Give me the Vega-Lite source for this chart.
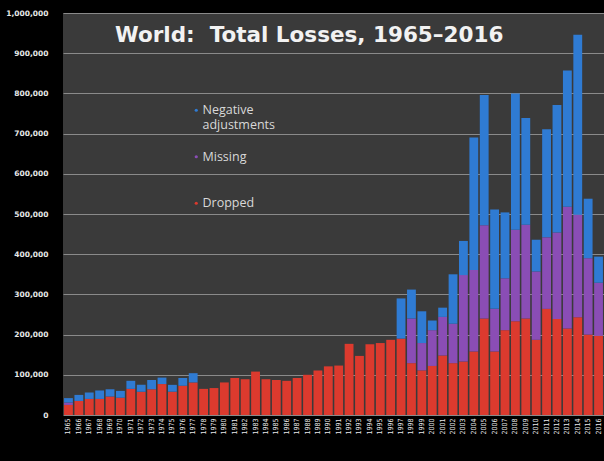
{
  "$schema": "https://vega.github.io/schema/vega-lite/v6.json",
  "width": 541,
  "height": 402,
  "autosize": "none",
  "padding": {"left": 63, "top": 13, "right": 0, "bottom": 46},
  "background": "#000000",
  "title": {
    "text": "World:\u00a0 Total Losses, 1965–2016",
    "anchor": "start",
    "frame": "group",
    "orient": "top",
    "dx": 52,
    "dy": 54,
    "baseline": "alphabetic",
    "font": "DejaVu Sans",
    "fontWeight": "bold",
    "fontSize": 21.5,
    "color": "#f2f2f2",
    "offset": 0
  },
  "data": {
    "values": [
      {"year": 1965, "Dropped": 25000, "Missing": 6000, "Negative adjustments": 11000},
      {"year": 1966, "Dropped": 35000, "Missing": 0, "Negative adjustments": 15000},
      {"year": 1967, "Dropped": 40000, "Missing": 0, "Negative adjustments": 16000},
      {"year": 1968, "Dropped": 40000, "Missing": 0, "Negative adjustments": 21000},
      {"year": 1969, "Dropped": 46000, "Missing": 0, "Negative adjustments": 18000},
      {"year": 1970, "Dropped": 43000, "Missing": 0, "Negative adjustments": 17000},
      {"year": 1971, "Dropped": 65000, "Missing": 0, "Negative adjustments": 20000},
      {"year": 1972, "Dropped": 58000, "Missing": 0, "Negative adjustments": 17000},
      {"year": 1973, "Dropped": 64000, "Missing": 0, "Negative adjustments": 23000},
      {"year": 1974, "Dropped": 77000, "Missing": 0, "Negative adjustments": 16000},
      {"year": 1975, "Dropped": 58000, "Missing": 0, "Negative adjustments": 17000},
      {"year": 1976, "Dropped": 73000, "Missing": 0, "Negative adjustments": 19000},
      {"year": 1977, "Dropped": 81000, "Missing": 0, "Negative adjustments": 23000},
      {"year": 1978, "Dropped": 65000, "Missing": 0, "Negative adjustments": 0},
      {"year": 1979, "Dropped": 67000, "Missing": 0, "Negative adjustments": 0},
      {"year": 1980, "Dropped": 81000, "Missing": 0, "Negative adjustments": 0},
      {"year": 1981, "Dropped": 92000, "Missing": 0, "Negative adjustments": 0},
      {"year": 1982, "Dropped": 89000, "Missing": 0, "Negative adjustments": 0},
      {"year": 1983, "Dropped": 108000, "Missing": 0, "Negative adjustments": 0},
      {"year": 1984, "Dropped": 89000, "Missing": 0, "Negative adjustments": 0},
      {"year": 1985, "Dropped": 87000, "Missing": 0, "Negative adjustments": 0},
      {"year": 1986, "Dropped": 85000, "Missing": 0, "Negative adjustments": 0},
      {"year": 1987, "Dropped": 92000, "Missing": 0, "Negative adjustments": 0},
      {"year": 1988, "Dropped": 100000, "Missing": 0, "Negative adjustments": 0},
      {"year": 1989, "Dropped": 111000, "Missing": 0, "Negative adjustments": 0},
      {"year": 1990, "Dropped": 121000, "Missing": 0, "Negative adjustments": 0},
      {"year": 1991, "Dropped": 123000, "Missing": 0, "Negative adjustments": 0},
      {"year": 1992, "Dropped": 177000, "Missing": 0, "Negative adjustments": 0},
      {"year": 1993, "Dropped": 147000, "Missing": 0, "Negative adjustments": 0},
      {"year": 1994, "Dropped": 176000, "Missing": 0, "Negative adjustments": 0},
      {"year": 1995, "Dropped": 179000, "Missing": 0, "Negative adjustments": 0},
      {"year": 1996, "Dropped": 187000, "Missing": 0, "Negative adjustments": 0},
      {"year": 1997, "Dropped": 190000, "Missing": 0, "Negative adjustments": 100000},
      {"year": 1998, "Dropped": 129000, "Missing": 111000, "Negative adjustments": 72000},
      {"year": 1999, "Dropped": 111000, "Missing": 68000, "Negative adjustments": 79000},
      {"year": 2000, "Dropped": 122000, "Missing": 89000, "Negative adjustments": 24000},
      {"year": 2001, "Dropped": 148000, "Missing": 96000, "Negative adjustments": 23000},
      {"year": 2002, "Dropped": 129000, "Missing": 98000, "Negative adjustments": 123000},
      {"year": 2003, "Dropped": 133000, "Missing": 215000, "Negative adjustments": 85000},
      {"year": 2004, "Dropped": 158000, "Missing": 203000, "Negative adjustments": 329000},
      {"year": 2005, "Dropped": 240000, "Missing": 232000, "Negative adjustments": 324000},
      {"year": 2006, "Dropped": 158000, "Missing": 106000, "Negative adjustments": 247000},
      {"year": 2007, "Dropped": 211000, "Missing": 129000, "Negative adjustments": 164000},
      {"year": 2008, "Dropped": 233000, "Missing": 228000, "Negative adjustments": 339000},
      {"year": 2009, "Dropped": 240000, "Missing": 233000, "Negative adjustments": 266000},
      {"year": 2010, "Dropped": 187000, "Missing": 170000, "Negative adjustments": 79000},
      {"year": 2011, "Dropped": 264000, "Missing": 178000, "Negative adjustments": 269000},
      {"year": 2012, "Dropped": 239000, "Missing": 215000, "Negative adjustments": 317000},
      {"year": 2013, "Dropped": 215000, "Missing": 303000, "Negative adjustments": 339000},
      {"year": 2014, "Dropped": 243000, "Missing": 255000, "Negative adjustments": 448000},
      {"year": 2015, "Dropped": 200000, "Missing": 190000, "Negative adjustments": 148000},
      {"year": 2016, "Dropped": 197000, "Missing": 132000, "Negative adjustments": 65000}
    ]
  },
  "transform": [
    {"fold": ["Dropped", "Missing", "Negative adjustments"], "as": ["category", "losses"]}
  ],
  "mark": {"type": "bar"},
  "encoding": {
    "x": {
      "field": "year",
      "type": "ordinal",
      "scale": {"paddingInner": 0.15, "paddingOuter": 0.1},
      "axis": {
        "title": null,
        "labelAngle": -90,
        "labelAlign": "right",
        "labelBaseline": "middle",
        "labelFontSize": 7,
        "labelFont": "DejaVu Sans Condensed",
        "labelColor": "#e8e8e8",
        "labelPadding": 3,
        "ticks": false,
        "domain": false,
        "grid": false
      }
    },
    "y": {
      "field": "losses",
      "type": "quantitative",
      "stack": "zero",
      "scale": {"domain": [0, 1000000], "nice": false},
      "axis": {
        "title": null,
        "values": [0, 100000, 200000, 300000, 400000, 500000, 600000, 700000, 800000, 900000, 1000000],
        "format": ",d",
        "labelFontSize": 7.5,
        "labelFont": "DejaVu Sans",
        "labelFontWeight": "bold",
        "labelColor": "#e8e8e8",
        "labelPadding": 15,
        "ticks": false,
        "domain": false,
        "grid": true,
        "gridColor": "#8a8a8a",
        "gridWidth": 1
      }
    },
    "color": {
      "field": "category",
      "type": "nominal",
      "scale": {
        "domain": ["Negative adjustments", "Missing", "Dropped"],
        "range": ["#2f7bd3", "#8a4db5", "#dc3a2e"]
      },
      "legend": {
        "title": null,
        "orient": "none",
        "legendX": 127,
        "legendY": 91,
        "direction": "vertical",
        "gridAlign": "all",
        "symbolType": "circle",
        "symbolSize": 10,
        "symbolStrokeWidth": 0,
        "labelFont": "Open Sans",
        "labelFontSize": 12.5,
        "labelColor": "#d8d8d8",
        "labelOffset": 0,
        "rowPadding": 18.5,
        "labelExpr": "datum.label == 'Negative adjustments' ? ['Negative', 'adjustments'] : datum.label"
      }
    },
    "order": {"field": "category", "sort": "ascending"}
  },
  "config": {
    "view": {"fill": "#3a3a3a", "stroke": null}
  }
}
